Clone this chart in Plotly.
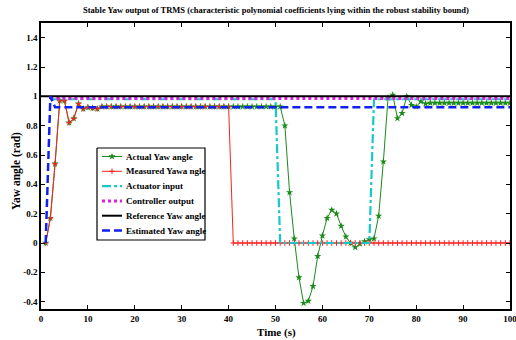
import plotly.graph_objects as go

t = list(range(1, 101))

actual_yaw = [0.0, 0.17, 0.54, 0.97, 0.97, 0.82, 0.85, 0.95, 0.915, 0.925,
              0.92, 0.915, 0.93, 0.93, 0.93, 0.93, 0.93, 0.93, 0.93, 0.93,
              0.93, 0.93, 0.93, 0.93, 0.93, 0.93, 0.93, 0.93, 0.93, 0.93,
              0.93, 0.93, 0.93, 0.93, 0.93, 0.93, 0.93, 0.93, 0.93, 0.93,
              0.93, 0.93, 0.93, 0.93, 0.93, 0.93, 0.93, 0.93, 0.93, 0.93,
              0.93, 0.80, 0.345, 0.03, -0.235, -0.41, -0.395, -0.295, -0.09, 0.05,
              0.17, 0.225, 0.20, 0.116, 0.043, 0.0, -0.03, -0.005, 0.01, 0.025,
              0.03, 0.185, 0.555, 0.99, 1.01, 0.85, 0.885, 1.0, 0.94, 0.93,
              0.965, 0.95, 0.955, 0.955, 0.955, 0.955, 0.955, 0.955, 0.955, 0.955,
              0.955, 0.955, 0.955, 0.955, 0.955, 0.955, 0.955, 0.955, 0.955, 0.955]

measured_yaw = [0.0, 0.17, 0.54, 0.97, 0.97, 0.82, 0.85, 0.95, 0.915, 0.925,
                0.92, 0.915, 0.93, 0.93, 0.93, 0.93, 0.93, 0.93, 0.93, 0.93,
                0.93, 0.93, 0.93, 0.93, 0.93, 0.93, 0.93, 0.93, 0.93, 0.93,
                0.93, 0.93, 0.93, 0.93, 0.93, 0.93, 0.93, 0.93, 0.93, 0.93,
                0, 0, 0, 0, 0, 0, 0, 0, 0, 0,
                0, 0, 0, 0, 0, 0, 0, 0, 0, 0,
                0, 0, 0, 0, 0, 0, 0, 0, 0, 0,
                0, 0, 0, 0, 0, 0, 0, 0, 0, 0,
                0, 0, 0, 0, 0, 0, 0, 0, 0, 0,
                0, 0, 0, 0, 0, 0, 0, 0, 0, 0]

actuator_t = [2, 50, 51, 70, 71, 100]
actuator_v = [0.98, 0.98, 0.0, 0.0, 0.98, 0.98]

controller_t = [2, 100]
controller_v = [0.985, 0.985]

reference_t = [0, 100]
reference_v = [1.0, 1.0]

estimated_t = [1, 2, 3, 100]
estimated_v = [0.0, 1.0, 0.925, 0.925]

series_names = ["Actual Yaw angle", "Measured Yawa ngle", "Actuator input",
                "Controller output", "Reference Yaw angle", "Estimated Yaw angle"]

ytick_vals = [-0.4, -0.2, 0, 0.2, 0.4, 0.6, 0.8, 1, 1.2, 1.4]
ytick_text = ["-0.4", "-0.2", "0", "0.2", "0.4", "0.6", "0.8", "1", "1.2", "1.4"]
xtick_vals = [0, 10, 20, 30, 40, 50, 60, 70, 80, 90, 100]

FONT = "Liberation Serif"
W, H = 516, 340
L, R, T, B = 41, 510, 23, 309  # plot area in figure pixels


def px_x(sx):
    """figure x pixel -> plot-area fraction"""
    return (sx - L) / (R - L)


def px_y(sy):
    """figure y pixel -> plot-area fraction"""
    return (B - sy) / (B - T)


styles = [
    dict(mode="lines+markers", line=dict(color="#1a8a1a", width=1),
         marker=dict(symbol="star", size=5.5, color="#1a8a1a")),
    dict(mode="lines+markers", line=dict(color="#ff2020", width=1),
         marker=dict(symbol="cross-thin", size=4, line=dict(color="#ff2020", width=1))),
    dict(mode="lines", line=dict(color="#18c8c8", width=2.2, dash="9px,3px,3px,3px")),
    dict(mode="lines", line=dict(color="#e020e0", width=3, dash="3px,3px")),
    dict(mode="lines", line=dict(color="black", width=2)),
    dict(mode="lines", line=dict(color="#1020f0", width=2.5, dash="8px,4px")),
]
data = [(t, actual_yaw), (t, measured_yaw), (actuator_t, actuator_v),
        (controller_t, controller_v), (reference_t, reference_v), (estimated_t, estimated_v)]

fig = go.Figure()
for (xs, ys), st, nm in zip(data, styles, series_names):
    fig.add_trace(go.Scatter(x=xs, y=ys, name=nm, showlegend=False, **st))

# ---- custom legend on an overlay axis measured in figure pixels ----
box_x0, box_x1, box_y0, box_y1 = 97, 205, 148, 240
fig.add_trace(go.Scatter(x=[box_x0, box_x1, box_x1, box_x0, box_x0],
                         y=[box_y0, box_y0, box_y1, box_y1, box_y0],
                         xaxis="x2", yaxis="y2", mode="lines", fill="toself",
                         fillcolor="white", line=dict(color="black", width=1.2),
                         showlegend=False, hoverinfo="skip"))
row_y0, row_dy = 156.5, 14.8
sym_x0, sym_x1 = 102, 122
annotations = []
for i, (st, nm) in enumerate(zip(styles, series_names)):
    yy = row_y0 + i * row_dy
    fig.add_trace(go.Scatter(x=[sym_x0, sym_x1], y=[yy, yy], xaxis="x2", yaxis="y2",
                             mode="lines", line=st["line"], showlegend=False, hoverinfo="skip"))
    if "marker" in st:
        fig.add_trace(go.Scatter(x=[(sym_x0 + sym_x1) / 2], y=[yy], xaxis="x2", yaxis="y2",
                                 mode="markers", marker=st["marker"], showlegend=False,
                                 hoverinfo="skip"))
    annotations.append(dict(x=sym_x1 + 1.5, y=yy, xref="x2", yref="y2", xanchor="left",
                            yanchor="middle", text="<b>" + nm + "</b>", showarrow=False,
                            font=dict(family=FONT, size=9, color="black")))

annotations += [
    dict(x=px_x(276), y=px_y(10), xref="paper", yref="paper",
         xanchor="center", yanchor="middle",
         text="<b>Stable Yaw output of TRMS (characteristic polynomial coefficients lying within the robust stability bound)</b>",
         showarrow=False, font=dict(family=FONT, size=8.5, color="black")),
    dict(x=px_x(276), y=px_y(332), xref="paper", yref="paper",
         xanchor="center", yanchor="middle", text="<b>Time (s)</b>", showarrow=False,
         font=dict(family=FONT, size=11, color="black")),
    dict(x=px_x(16), y=px_y(171), xref="paper", yref="paper",
         xanchor="center", yanchor="middle", text="<b>Yaw angle (rad)</b>", textangle=-90,
         showarrow=False, font=dict(family=FONT, size=11.5, color="black")),
]

axis_common = dict(showgrid=False, zeroline=False, showline=True, linecolor="black", linewidth=1.5,
                   mirror="ticks", ticks="inside", ticklen=4, tickcolor="black", tickwidth=1.2,
                   automargin=False, ticklabeloverflow="allow",
                   tickfont=dict(family=FONT, size=9, color="black", weight="bold"))

fig.update_layout(
    width=W, height=H,
    margin=dict(l=L, r=W - R, t=T, b=H - B, autoexpand=False),
    paper_bgcolor="white", plot_bgcolor="white",
    xaxis=dict(range=[0, 100], tickvals=xtick_vals, **axis_common),
    yaxis=dict(range=[-0.45, 1.5], tickvals=ytick_vals, ticktext=ytick_text, **axis_common),
    xaxis2=dict(overlaying="x", range=[L, R], visible=False, fixedrange=True),
    yaxis2=dict(overlaying="y", range=[B, T], visible=False, fixedrange=True),
    annotations=annotations,
    showlegend=False,
)

fig.write_html("out.html", config={"displayModeBar": False},
               post_script="document.body.style.margin='0';")
